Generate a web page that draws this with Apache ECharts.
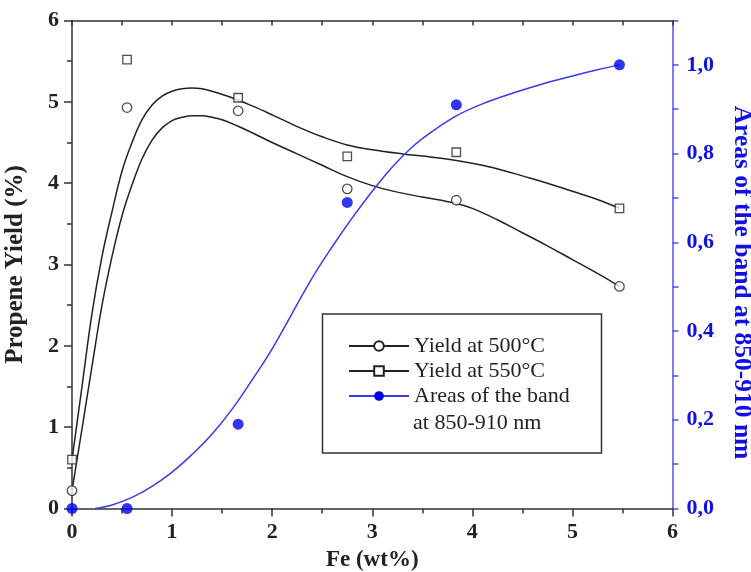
<!DOCTYPE html>
<html>
<head>
<meta charset="utf-8">
<script src="https://cdn.jsdelivr.net/npm/echarts@6/dist/echarts.min.js"></script>
<style>html,body{margin:0;padding:0;background:#fff}#c{width:751px;height:572px}</style>
</head>
<body>
<div id="c"></div>
<script>
// Measured points
const xFe = [0, 0.55, 1.66, 2.75, 3.84, 5.47];
const yield500 = [0.22, 4.93, 4.89, 3.93, 3.79, 2.73];
const yield550 = [0.60, 5.52, 5.05, 4.33, 4.38, 3.69];
const bandArea = [0, 0, 0.19, 0.69, 0.91, 1.0];

// Fitted curves
const fit550X = [0, 0.1, 0.2, 0.3, 0.4, 0.5, 0.6, 0.7, 0.8, 0.9, 1.0, 1.1, 1.2, 1.3, 1.4, 1.6, 1.8, 2.0, 2.28, 2.5, 2.75, 3.0, 3.3, 3.6, 3.84, 4.1, 4.3, 4.5, 4.75, 5.0, 5.25, 5.47];
const fit550Y = [0.6, 1.5, 2.4, 3.1, 3.65, 4.15, 4.5, 4.78, 4.96, 5.07, 5.13, 5.16, 5.17, 5.16, 5.13, 5.05, 4.95, 4.84, 4.68, 4.57, 4.47, 4.41, 4.36, 4.32, 4.28, 4.22, 4.16, 4.09, 4.0, 3.9, 3.8, 3.69];
const fit500X = [0, 0.1, 0.2, 0.3, 0.4, 0.5, 0.6, 0.7, 0.8, 0.9, 1.0, 1.1, 1.2, 1.3, 1.4, 1.5, 1.66, 1.8, 2.0, 2.25, 2.5, 2.75, 3.0, 3.25, 3.5, 3.84, 4.0, 4.25, 4.5, 4.75, 5.0, 5.25, 5.47];
const fit500Y = [0.22, 0.98, 1.75, 2.5, 3.1, 3.6, 3.98, 4.3, 4.53, 4.68, 4.77, 4.81, 4.83, 4.83, 4.81, 4.78, 4.70, 4.62, 4.50, 4.36, 4.22, 4.08, 3.97, 3.89, 3.83, 3.75, 3.69, 3.55, 3.39, 3.23, 3.06, 2.89, 2.73];
const fitBandX = [0.23, 0.4, 0.6, 0.8, 1.0, 1.2, 1.4, 1.6, 1.8, 2.0, 2.2, 2.4, 2.6, 2.8, 3.0, 3.2, 3.4, 3.6, 3.84, 4.1, 4.4, 4.7, 5.0, 5.25, 5.47];
const fitBandY = [0, 0.008, 0.025, 0.05, 0.082, 0.122, 0.168, 0.224, 0.29, 0.36, 0.44, 0.52, 0.59, 0.655, 0.715, 0.77, 0.815, 0.85, 0.885, 0.912, 0.936, 0.957, 0.975, 0.989, 1.0];

const seriesNames = ['Yield at 500°C', 'Yield at 550°C', 'Areas of the band'];
const legendExtra = 'at 850-910 nm';
const xName = 'Fe (wt%)';
const yName = 'Propene Yield (%)';
const y2Name = 'Areas of the band at 850-910 nm';

const zip = (a, b) => a.map((v, i) => [v, b[i]]);
const FONT = 'Liberation Serif';
const BLACK = '#222';
const BLUE = '#0000f0';
const BLUE_LINE = '#3a3af0';

const chart = echarts.init(document.getElementById('c'), null, {renderer: 'canvas'});
chart.setOption({
  animation: false,
  backgroundColor: '#fff',
  grid: {left: 72, right: 78.5, top: 20.5, bottom: 63.5, containLabel: false, outerBoundsMode: 'none'},
  xAxis: [{
    type: 'value', min: 0, max: 6, interval: 1, position: 'bottom',
    name: xName, nameLocation: 'middle', nameGap: 40,
    nameTextStyle: {fontFamily: FONT, fontWeight: 'bold', fontSize: 23, color: '#222'},
    axisLine: {onZero: false, lineStyle: {color: '#333', width: 1.5}},
    axisTick: {length: 8, lineStyle: {color: '#333', width: 1.5}},
    minorTick: {show: true, splitNumber: 2, length: 5, lineStyle: {color: '#333', width: 1.5}},
    axisLabel: {fontFamily: FONT, fontWeight: 'bold', fontSize: 22, color: '#222', margin: 13},
    splitLine: {show: false}
  }, {
    type: 'value', min: 0, max: 6, interval: 1, position: 'top',
    axisLine: {onZero: false, lineStyle: {color: '#333', width: 1.5}},
    axisTick: {inside: true, length: 5, lineStyle: {color: '#333', width: 1.5}},
    minorTick: {show: true, splitNumber: 2, length: 5, lineStyle: {color: '#333', width: 1.5}},
    axisLabel: {show: false},
    splitLine: {show: false}
  }],
  yAxis: [{
    type: 'value', min: 0, max: 6, interval: 1, position: 'left',
    name: yName, nameLocation: 'middle', nameGap: 44,
    nameTextStyle: {fontFamily: FONT, fontWeight: 'bold', fontSize: 25, color: '#222'},
    axisLine: {onZero: false, lineStyle: {color: '#333', width: 1.5}},
    axisTick: {length: 8, lineStyle: {color: '#333', width: 1.5}},
    minorTick: {show: true, splitNumber: 2, length: 5, lineStyle: {color: '#333', width: 1.5}},
    axisLabel: {fontFamily: FONT, fontWeight: 'bold', fontSize: 22, color: '#222', margin: 13},
    splitLine: {show: false}
  }, {
    type: 'value', min: 0, max: 1.1, interval: 0.1, position: 'right',
    name: y2Name, nameLocation: 'middle', nameGap: 56, nameRotate: -90,
    nameTextStyle: {fontFamily: FONT, fontWeight: 'bold', fontSize: 25.5, color: '#1010e6', padding: [0, 0, 0, 36]},
    axisLine: {onZero: false, lineStyle: {color: '#5050ee', width: 1.5}},
    axisTick: {length: 6, lineStyle: {color: '#5050ee', width: 1.5}},
    axisLabel: {
      fontFamily: FONT, fontWeight: 'bold', fontSize: 22, color: '#1010e6', margin: 14,
      formatter: v => {
        const t = Math.round(v * 10);
        return (t % 2 === 0 && t <= 10) ? (t / 10).toFixed(1).replace('.', ',') : '';
      }
    },
    splitLine: {show: false}
  }],
  legend: {
    orient: 'vertical', left: 348, top: 335,
    itemWidth: 60, itemHeight: 12, itemGap: 3, padding: 0,
    textStyle: {fontFamily: FONT, fontSize: 22, color: '#222'},
    data: seriesNames
  },
  graphic: [{
    type: 'rect', shape: {x: 322.5, y: 314, width: 279, height: 139},
    style: {fill: 'none', stroke: '#333', lineWidth: 1.5}, z: 1
  }, {
    type: 'text', x: 413, y: 423,
    style: {text: legendExtra, font: '22px "Liberation Serif"', fill: '#222', verticalAlign: 'middle'}
  }],
  series: [{
    name: seriesNames[0], type: 'line', xAxisIndex: 0, yAxisIndex: 0,
    data: zip(fit500X, fit500Y), smooth: 0.4, showSymbol: false, symbol: 'emptyCircle',
    lineStyle: {color: BLACK, width: 1.5}, itemStyle: {color: BLACK}, z: 2
  }, {
    name: seriesNames[1], type: 'line', xAxisIndex: 0, yAxisIndex: 0,
    data: zip(fit550X, fit550Y), smooth: 0.4, showSymbol: false, symbol: 'emptyRect',
    lineStyle: {color: BLACK, width: 1.5}, itemStyle: {color: BLACK}, z: 2
  }, {
    name: seriesNames[2], type: 'line', xAxisIndex: 0, yAxisIndex: 1,
    data: zip(fitBandX, fitBandY), smooth: 0.4, showSymbol: false, symbol: 'circle',
    lineStyle: {color: BLUE_LINE, width: 1.5}, itemStyle: {color: BLUE}, z: 2
  }, {
    name: seriesNames[0], type: 'scatter', xAxisIndex: 0, yAxisIndex: 0,
    data: zip(xFe, yield500), symbol: 'circle', symbolSize: 9.5,
    itemStyle: {color: '#fff', borderColor: BLACK, borderWidth: 1.3}, z: 4
  }, {
    name: seriesNames[1], type: 'scatter', xAxisIndex: 0, yAxisIndex: 0,
    data: zip(xFe, yield550), symbol: 'rect', symbolSize: 8.5,
    itemStyle: {color: '#fff', borderColor: BLACK, borderWidth: 1.3}, z: 4
  }, {
    name: seriesNames[2], type: 'scatter', xAxisIndex: 0, yAxisIndex: 1,
    data: zip(xFe, bandArea), symbol: 'circle', symbolSize: 11,
    itemStyle: {color: BLUE}, z: 4
  }]
});
</script>
</body>
</html>
